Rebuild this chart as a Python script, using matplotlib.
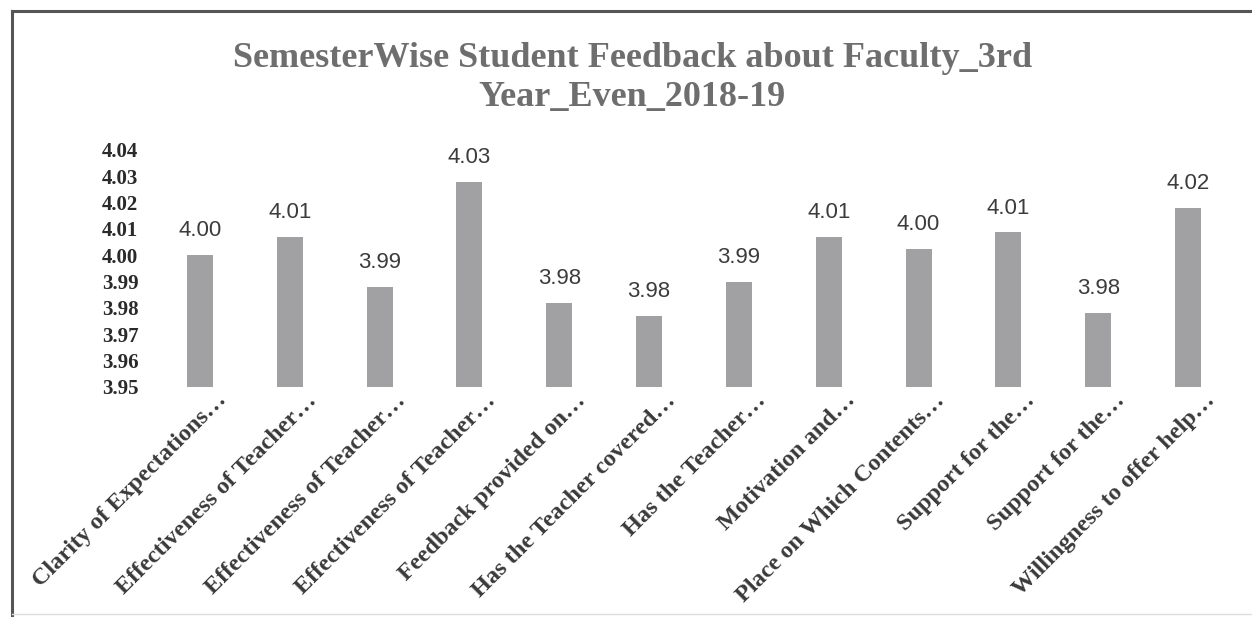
import matplotlib
matplotlib.use("Agg")
import matplotlib.pyplot as plt
import matplotlib.transforms as mtransforms
from matplotlib.lines import Line2D
import numpy as np

categories = [
    "Clarity of Expectations…",
    "Effectiveness of Teacher…",
    "Effectiveness of Teacher…",
    "Effectiveness of Teacher…",
    "Feedback provided on…",
    "Has the Teacher covered…",
    "Has the Teacher…",
    "Motivation and…",
    "Place on Which Contents…",
    "Support for the…",
    "Support for the…",
    "Willingness to offer help…",
]
values = [4.000, 4.007, 3.988, 4.028, 3.982, 3.977, 3.990, 4.007, 4.0025, 4.0087, 3.978, 4.018]
yticks = [3.95, 3.96, 3.97, 3.98, 3.99, 4.00, 4.01, 4.02, 4.03, 4.04]
title = "SemesterWise Student Feedback about Faculty_3rd\nYear_Even_2018-19"

fig = plt.figure(figsize=(12.52, 6.18), dpi=100)
ax = fig.add_axes([0.1238, 0.3738, 0.861, 0.3835])

x = np.arange(len(categories))
ax.bar(x, [v - 3.95 for v in values], bottom=3.95, width=0.29, color="#a1a1a4")
ax.set_ylim(3.95, 4.04)
ax.set_xlim(-0.5, len(categories) - 0.5)
ax.set_yticks(yticks)
ax.set_yticklabels([f"{t:.2f}" for t in yticks], fontfamily="Liberation Serif",
                   fontweight="bold", fontsize=15, color="#2a2a2a")
ax.set_xticks(x)
ax.set_xticklabels(categories, rotation=45, ha="right", va="top", rotation_mode="anchor",
                   fontfamily="Liberation Serif", fontweight="bold", fontsize=17.5, color="#3a3a3a")
ax.tick_params(axis="both", length=0)
ax.tick_params(axis="x", pad=2)
ax.tick_params(axis="y", pad=12)
offset = mtransforms.ScaledTranslation(16 / 100, 0, fig.dpi_scale_trans)
for lab in ax.get_xticklabels():
    lab.set_transform(lab.get_transform() + offset)
for s in ax.spines.values():
    s.set_visible(False)

for xi, v in zip(x, values):
    ax.annotate(f"{v:.2f}", (xi, v), xytext=(0, 10), textcoords="offset points",
                ha="center", va="bottom", fontsize=16, fontfamily="Liberation Sans",
                color="#3c3c3c")

fig.text(0.505, 1 - 78 / 618, title, ha="center", va="center", fontsize=26,
         fontfamily="Liberation Serif", fontweight="bold", color="#6e6e6e",
         linespacing=1.25)

# frame
fig.add_artist(Line2D([12/1252, 12/1252], [1 - 11/618, 1 - 615/618], transform=fig.transFigure,
                      color="#555555", lw=2.2))
fig.add_artist(Line2D([12/1252, 1.0], [1 - 11/618, 1 - 11/618], transform=fig.transFigure,
                      color="#555555", lw=2.2))
fig.add_artist(Line2D([12/1252, 1.0], [1 - 614/618, 1 - 614/618], transform=fig.transFigure,
                      color="#dddddd", lw=1.0))

fig.savefig("out.png", dpi=100, facecolor="white")
